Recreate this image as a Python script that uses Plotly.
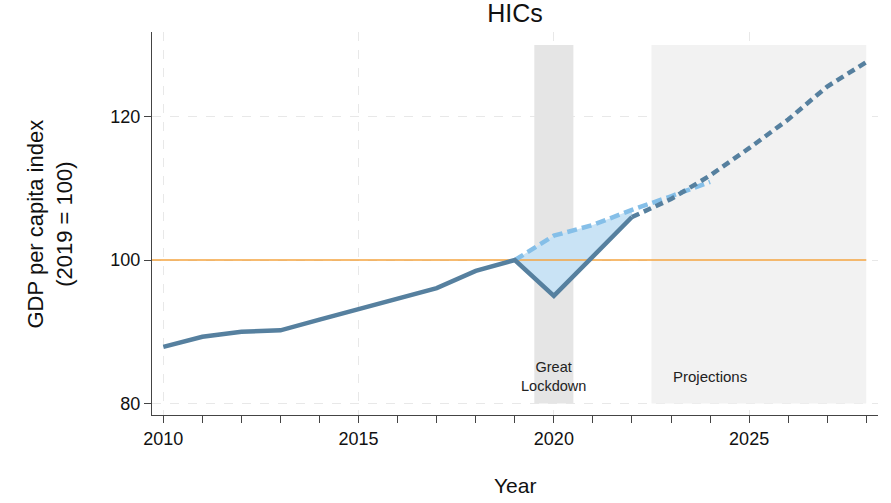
import plotly.graph_objects as go

# Data
years_actual = [2010, 2011, 2012, 2013, 2014, 2015, 2016, 2017, 2018, 2019, 2020, 2021, 2022]
gdp_actual = [87.9, 89.3, 90.0, 90.2, 91.7, 93.2, 94.6, 96.1, 98.5, 100.0, 95.0, 100.6, 106.0]
years_proj = [2022, 2023, 2024, 2025, 2026, 2027, 2028]
gdp_proj = [106.0, 108.5, 111.8, 115.6, 119.6, 124.2, 127.6]
years_cf = [2019, 2020, 2021, 2022, 2023, 2024]
gdp_cf = [100.0, 103.4, 104.9, 107.0, 108.9, 110.9]
lockdown_span = [2019.5, 2020.5]
projection_span = [2022.5, 2028]
shade_range = [80, 130]
ref_level = 100

DARK = "#56809f"
LIGHT = "#85bfe8"
FILL = "#c9e3f5"
ORANGE = "#f5a440"
FONT = "Liberation Sans, Arial, sans-serif"

fig = go.Figure()

# Fill between counterfactual and actual (2019-2022)
n_fill = 4
fx = years_cf[:n_fill] + years_actual[-n_fill:][::-1]
fy = gdp_cf[:n_fill] + gdp_actual[-n_fill:][::-1]
fig.add_trace(go.Scatter(x=fx, y=fy, fill="toself", fillcolor=FILL, mode="none",
                         hoverinfo="skip", showlegend=False))

# Reference line at 100
fig.add_trace(go.Scatter(x=[2009.71, projection_span[1]], y=[ref_level, ref_level], mode="lines",
                         line=dict(color=ORANGE, width=1.5), showlegend=False))

# Counterfactual
fig.add_trace(go.Scatter(x=years_cf, y=gdp_cf, mode="lines",
                         line=dict(color=LIGHT, width=4.5, dash="10px,5px"), showlegend=False))
# Projections
fig.add_trace(go.Scatter(x=years_proj, y=gdp_proj, mode="lines",
                         line=dict(color=DARK, width=4.5, dash="8px,5px"), showlegend=False))
# Actual
fig.add_trace(go.Scatter(x=years_actual, y=gdp_actual, mode="lines",
                         line=dict(color=DARK, width=4.5), showlegend=False))

shapes = [
    dict(type="rect", xref="x", yref="y", x0=lockdown_span[0], x1=lockdown_span[1],
         y0=shade_range[0], y1=shade_range[1], fillcolor="#e5e5e5", line=dict(width=0), layer="between"),
    dict(type="rect", xref="x", yref="y", x0=projection_span[0], x1=projection_span[1],
         y0=shade_range[0], y1=shade_range[1], fillcolor="#f2f2f2", line=dict(width=0), layer="between"),
]

annotations = [
    dict(x=2020, y=83.75, xref="x", yref="y", text="Great<br>Lockdown", showarrow=False,
         font=dict(size=14.5, color="#222"), align="center"),
    dict(x=2024.0, y=83.7, xref="x", yref="y", text="Projections", showarrow=False,
         font=dict(size=15, color="#222")),
    dict(x=-0.1405, y=0.5, xref="paper", yref="paper", text="GDP per capita index<br>(2019 = 100)",
         textangle=-90, showarrow=False, font=dict(size=22, color="#111"), align="center",
         xanchor="center", yanchor="middle"),
    dict(x=0.5, y=-0.183, xref="paper", yref="paper", text="Year", showarrow=False,
         font=dict(size=21, color="#111"), xanchor="center", yanchor="middle"),
]

fig.update_layout(
    width=891, height=503,
    margin=dict(l=152, r=13, t=32, b=88),
    paper_bgcolor="white", plot_bgcolor="white",
    font=dict(family=FONT, color="#111"),
    title=dict(text="HICs", x=515 / 891, xanchor="center", y=1 - 13.7 / 503, yanchor="middle",
               font=dict(size=25, color="#111")),
    shapes=shapes, annotations=annotations,
    showlegend=False,
)
fig.update_xaxes(
    range=[2009.71, 2028.3], tick0=2010, dtick=5, ticks="outside", ticklen=7, tickcolor="#444",
    tickfont=dict(size=18), showline=True, linecolor="#444", linewidth=1.2,
    showgrid=True, gridcolor="#e8e8e8", griddash="dash", gridwidth=1.2, zeroline=False,
    minor=dict(dtick=1, tick0=2010, ticks="outside", ticklen=7, tickcolor="#444", showgrid=False),
)
fig.update_yaxes(
    range=[78.4, 131.8], tickvals=[80, 100, 120], ticks="outside", ticklen=7, tickcolor="#444",
    tickfont=dict(size=18), showline=True, linecolor="#444", linewidth=1.2,
    showgrid=True, gridcolor="#e8e8e8", griddash="dash", gridwidth=1.2, zeroline=False,
)

fig.write_html("out.html", config={"displayModeBar": False},
               post_script="document.body.style.margin='0';")
